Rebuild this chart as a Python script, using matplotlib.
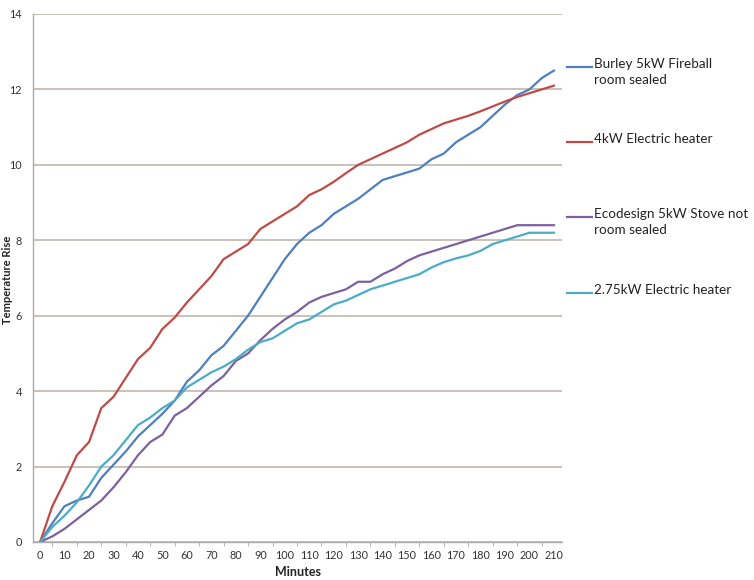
import numpy as np
import matplotlib
matplotlib.use("Agg")
import matplotlib.pyplot as plt
from matplotlib.lines import Line2D

plt.rcParams['font.family'] = ['Lato', 'DejaVu Sans']

# readings every 5 minutes
minutes = list(range(0, 215, 5))

burley = [0, 0.5, 0.95, 1.1, 1.2, 1.7, 2.05, 2.4, 2.8, 3.1, 3.4, 3.75, 4.25, 4.55, 4.95,
          5.2, 5.6, 6.0, 6.5, 7.0, 7.5, 7.9, 8.2, 8.4, 8.7, 8.9, 9.1, 9.35, 9.6, 9.7,
          9.8, 9.9, 10.15, 10.3, 10.6, 10.8, 11.0, 11.3, 11.6, 11.85, 12.0, 12.3, 12.5]
electric_4kw = [0, 0.95, 1.6, 2.3, 2.65, 3.55, 3.85, 4.35, 4.85, 5.15, 5.65, 5.95, 6.35, 6.7, 7.05,
                7.5, 7.7, 7.9, 8.3, 8.5, 8.7, 8.9, 9.2, 9.35, 9.55, 9.78, 10.0, 10.15, 10.3, 10.45,
                10.6, 10.8, 10.95, 11.1, 11.2, 11.3, 11.42, 11.55, 11.68, 11.8, 11.9, 12.0, 12.1]
ecodesign = [0, 0.15, 0.35, 0.6, 0.85, 1.1, 1.45, 1.85, 2.3, 2.65, 2.85, 3.35, 3.55, 3.85, 4.15,
             4.4, 4.8, 5.0, 5.35, 5.65, 5.9, 6.1, 6.35, 6.5, 6.6, 6.7, 6.9, 6.9, 7.1, 7.25,
             7.45, 7.6, 7.7, 7.8, 7.9, 8.0, 8.1, 8.2, 8.3, 8.4, 8.4, 8.4, 8.4]
electric_275kw = [0, 0.4, 0.7, 1.05, 1.5, 2.0, 2.3, 2.7, 3.1, 3.3, 3.55, 3.75, 4.1, 4.3, 4.5,
                  4.65, 4.85, 5.1, 5.3, 5.4, 5.6, 5.8, 5.9, 6.1, 6.3, 6.4, 6.55, 6.7, 6.8, 6.9,
                  7.0, 7.1, 7.28, 7.42, 7.52, 7.6, 7.72, 7.9, 8.0, 8.1, 8.2, 8.2, 8.2]

series_names = ["Burley 5kW Fireball\nroom sealed", "4kW Electric heater",
                "Ecodesign 5kW Stove not\nroom sealed", "2.75kW Electric heater"]
series_data = [burley, electric_4kw, ecodesign, electric_275kw]
colors = ["#4F7FBE", "#BE4B48", "#7D60A0", "#4BACC6"]

W, H = 754, 580
fig = plt.figure(figsize=(W / 100, H / 100), dpi=100)
# plot area in pixels: x 33..562, y 14..542
ax = fig.add_axes([33 / W, 1 - 542 / H, (562 - 33) / W, (542 - 14) / H])

for vals, c in zip(series_data, colors):
    ax.plot(minutes, vals, color=c, lw=1.6, solid_joinstyle='round')

ax.set_xlim(-2.9, 213.3)
ax.set_ylim(0, 14)

# gridlines
ax.set_yticks(np.arange(0, 15, 2))
ax.yaxis.grid(True, color="#C6BDB2", lw=1.3)
ax.set_axisbelow(True)

ax.set_xticks(range(0, 211, 10))
ax.set_xticks(np.arange(5, 211, 10), minor=True)
ax.tick_params(axis='x', which='major', length=0, pad=6, labelsize=7.8, colors="#333333")
ax.tick_params(axis='x', which='minor', length=3, color="#A8A8A8", direction='out')
ax.tick_params(axis='y', length=0, pad=8, labelsize=7.8, colors="#333333")

for s in ['top', 'right']:
    ax.spines[s].set_visible(False)
for s in ['left', 'bottom']:
    ax.spines[s].set_color("#ABABAB")
    ax.spines[s].set_linewidth(1.0)

fig.text(8 / W, 1 - 280 / H, "Temperature Rise", rotation=90, ha='center', va='center',
         fontsize=8, fontweight='bold', color="#222222")
fig.text(298 / W, 1 - 572 / H, "Minutes", ha='center', va='center',
         fontsize=9, fontweight='bold', color="#222222")

# legend drawn by hand on the right
legend_y = [67, 142, 217, 293]
for name, c, ly in zip(series_names, colors, legend_y):
    fig.add_artist(Line2D([567 / W, 592 / W], [1 - ly / H, 1 - ly / H], color=c, lw=1.6,
                          transform=fig.transFigure))
    fig.text(594 / W, 1 - (ly - 9) / H, name, ha='left', va='top', fontsize=9.7,
             color="#222222", linespacing=1.35)

fig.savefig("out.png", dpi=100)
